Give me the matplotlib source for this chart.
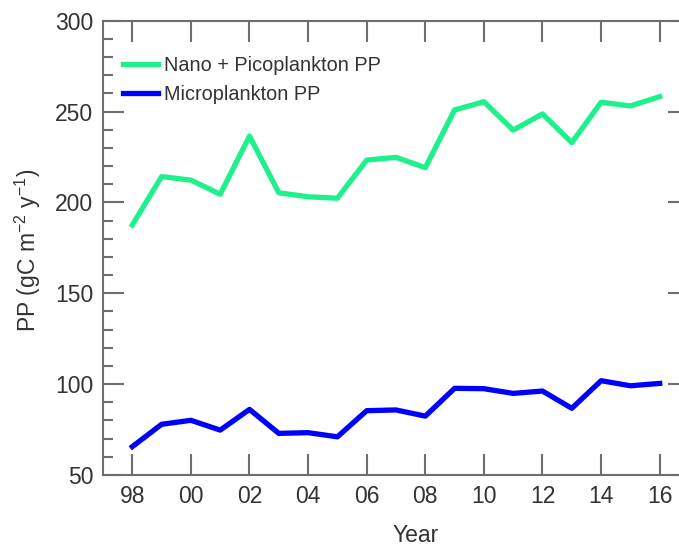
import matplotlib
matplotlib.use("Agg")
import matplotlib.pyplot as plt

# data
years = [1998, 1999, 2000, 2001, 2002, 2003, 2004, 2005, 2006, 2007,
         2008, 2009, 2010, 2011, 2012, 2013, 2014, 2015, 2016]
nano_pico = [187.6, 214.2, 212.3, 204.5, 236.5, 205.3, 203.1, 202.3, 223.3, 224.8,
             219.1, 250.9, 255.4, 239.8, 248.7, 232.9, 255.1, 253.1, 258.2]
micro = [65.6, 77.9, 80.1, 74.7, 86.1, 72.9, 73.3, 71.0, 85.4, 85.8,
         82.4, 97.7, 97.5, 94.9, 96.2, 86.7, 101.9, 99.1, 100.4]
xtick_pos = [1998, 2000, 2002, 2004, 2006, 2008, 2010, 2012, 2014, 2016]
xtick_lab = ['98', '00', '02', '04', '06', '08', '10', '12', '14', '16']

plt.rcParams['font.family'] = ['Liberation Sans', 'DejaVu Sans']
plt.rcParams['mathtext.default'] = 'regular'

txt = '#333333'
gris = '#6e6e6e'

fig = plt.figure(figsize=(6.79, 5.48), dpi=100)
ax = fig.add_axes([103/679, 73/548, 586/679, 454.3/548])

ax.plot(years, nano_pico, color='#1ef08c', lw=3.8, label='Nano + Picoplankton PP')
ax.plot(years, micro, color='#0000ff', lw=3.8, label='Microplankton PP')

ax.set_xlim(1997, 2017)
ax.set_ylim(50, 300)
ax.set_xticks(xtick_pos)
ax.set_xticklabels(xtick_lab)
ax.set_yticks(range(50, 301, 50))
ax.set_yticks(range(50, 301, 10), minor=True)

ax.tick_params(which='major', direction='in', length=15, width=1.5, color=gris,
               top=True, right=True, labelsize=16.5, labelcolor=txt, pad=7)
ax.tick_params(which='minor', direction='in', length=7, width=1.5, color=gris,
               left=True, right=True)
for s in ax.spines.values():
    s.set_color(gris)
    s.set_linewidth(1.5)

fig.text(28/679, 1 - 250/548, 'PP (gC m$^{-2}$ y$^{-1}$)', rotation=90,
         ha='center', va='center', fontsize=16.5, color=txt)
fig.text(416/679, 1 - 536/548, 'Year', ha='center', va='center',
         fontsize=16.5, color=txt)

ax.legend(loc='upper left', bbox_to_anchor=(0.034, 0.923), frameon=False,
          fontsize=14.3, handlelength=1.75, handletextpad=0.32, labelspacing=0.5,
          borderpad=0, borderaxespad=0, labelcolor=txt)

fig.savefig('out.png', dpi=100)
